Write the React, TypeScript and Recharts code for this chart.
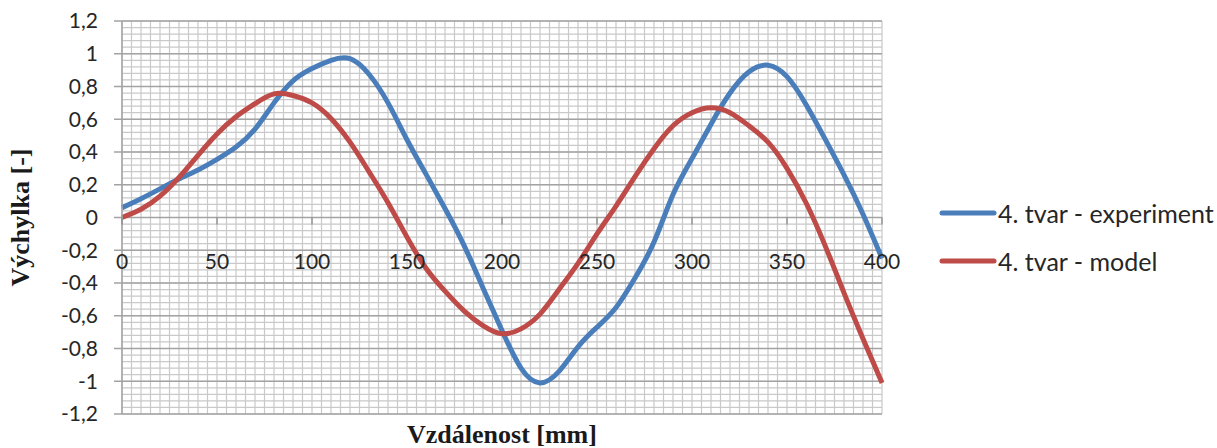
import React from 'react'
import { LineChart, Line, XAxis, YAxis, CartesianGrid, Legend } from 'recharts'

// vzdálenost [mm]
const distance = [
  0, 10, 20, 30, 40, 50, 60, 70, 80, 90, 100, 110, 120, 130, 140, 150, 160, 170, 180, 190, 200,
  210, 220, 230, 240, 250, 260, 270, 280, 290, 300, 310, 320, 330, 340, 350, 360, 370, 380, 390, 400,
]

// 4. tvar - experiment
const experiment = [
  0.06, 0.115, 0.175, 0.235, 0.29, 0.355, 0.43, 0.54, 0.7, 0.835, 0.91, 0.96, 0.97, 0.875, 0.7,
  0.475, 0.265, 0.055, -0.17, -0.43, -0.69, -0.92, -1.01, -0.94, -0.79, -0.67, -0.55, -0.37, -0.15,
  0.14, 0.36, 0.57, 0.76, 0.89, 0.93, 0.86, 0.69, 0.48, 0.26, 0.02, -0.25,
]

// 4. tvar - model
const model = [
  0, 0.05, 0.13, 0.245, 0.38, 0.51, 0.615, 0.695, 0.755, 0.745, 0.7, 0.605, 0.46, 0.28, 0.09,
  -0.12, -0.31, -0.45, -0.57, -0.66, -0.71, -0.68, -0.59, -0.44, -0.28, -0.1, 0.07, 0.25, 0.42,
  0.56, 0.64, 0.67, 0.64, 0.56, 0.46, 0.3, 0.09, -0.17, -0.46, -0.74, -1.01,
]

const xTicks = [0, 50, 100, 150, 200, 250, 300, 350, 400]
const yTicks = [-1.2, -1, -0.8, -0.6, -0.4, -0.2, 0, 0.2, 0.4, 0.6, 0.8, 1, 1.2]
// vedlejší mřížka
const xMinorTicks = Array.from({ length: 81 }, (_, i) => i * 5)
const yMinorTicks = Array.from({ length: 61 }, (_, i) => Math.round((-1.2 + i * 0.04) * 100) / 100)

const data = distance.map((d, i) => ({ d, exp: experiment[i], model: model[i] }))

const W = 1217
const H = 448
const TOP = 21
const X_AXIS_H = 34
const PLOT_H = H - TOP - X_AXIS_H
const ZERO_Y = TOP + PLOT_H / 2

const FONT = 'Lato, "Open Sans", sans-serif'
const SERIF = '"Liberation Serif", "Times New Roman", serif'

const fmt = (v: number) => String(Math.round(v * 10) / 10).replace('.', ',')

// převod hodnoty na pixel přes škálu osy (s náhradou přes offset)
const applyScale = (axis: any, v: number, fallback: number) => {
  const s = axis && axis.scale
  let r: any = undefined
  if (typeof s === 'function') r = s(v)
  else if (s && typeof s.map === 'function') r = s.map(v)
  return typeof r === 'number' && isFinite(r) ? r : fallback
}

const minorVertical = ({ xAxis, offset }: any) =>
  xMinorTicks.map((v) => applyScale(xAxis, v, offset.left + (offset.width * v) / 400))
const minorHorizontal = ({ yAxis, offset }: any) =>
  yMinorTicks.map((v) => applyScale(yAxis, v, offset.top + (offset.height * (1.2 - v)) / 2.4))

function XTick(props: any) {
  const { x, payload } = props
  return (
    <g>
      <line x1={x} x2={x} y1={ZERO_Y} y2={ZERO_Y + 7} stroke="#8c8c8c" strokeWidth={1.3} />
      <text x={x} y={ZERO_Y + 51} textAnchor="middle" fontFamily={FONT} fontSize={21} fill="#262626">
        {payload.value}
      </text>
    </g>
  )
}

const renderLegend = (props: any) => (
  <div>
    {props.payload.map((entry: any) => (
      <div key={entry.value} style={{ display: 'flex', alignItems: 'center', height: 48 }}>
        <svg width={58} height={10}>
          <line x1={3} y1={5} x2={55} y2={5} stroke={entry.color} strokeWidth={5} strokeLinecap="round" />
        </svg>
        <span style={{ fontFamily: FONT, fontSize: 25, color: '#262626', marginLeft: 1 }}>{entry.value}</span>
      </div>
    ))}
  </div>
)

export default function App() {
  return (
    <div style={{ position: 'absolute', left: 0, top: 0, background: '#fff' }}>
      <LineChart width={W} height={H} data={data} margin={{ top: TOP, right: 335, bottom: 0, left: 0 }}>
        <CartesianGrid
          stroke="#c9c9c9"
          strokeWidth={1.2}
          verticalCoordinatesGenerator={minorVertical}
          horizontalCoordinatesGenerator={minorHorizontal}
        />
        <CartesianGrid vertical={false} stroke="#a3a3a3" strokeWidth={1.5} />
        <XAxis
          dataKey="d"
          type="number"
          domain={[0, 400]}
          ticks={xTicks}
          height={X_AXIS_H}
          axisLine={false}
          tickLine={false}
          tick={<XTick />}
          interval={0}
          label={(p: any) => (
            <text
              x={p.viewBox.x + p.viewBox.width / 2}
              y={443}
              textAnchor="middle"
              fontFamily={SERIF}
              fontWeight="bold"
              fontSize={26}
              fill="#1a1a1a"
            >
              Vzdálenost [mm]
            </text>
          )}
        />
        <YAxis
          type="number"
          domain={[-1.2, 1.2]}
          ticks={yTicks}
          interval={0}
          width={122}
          tickSize={8}
          tickMargin={16}
          tickFormatter={fmt}
          axisLine={{ stroke: '#a3a3a3', strokeWidth: 1.5 }}
          tickLine={{ stroke: '#a3a3a3', strokeWidth: 1.5 }}
          tick={{ fontFamily: FONT, fontSize: 21, fill: '#262626' }}
          label={(p: any) => (
            <text
              transform={`translate(29, ${p.viewBox.y + p.viewBox.height / 2}) rotate(-90)`}
              textAnchor="middle"
              fontFamily={SERIF}
              fontWeight="bold"
              fontSize={26}
              fill="#1a1a1a"
            >
              Výchylka [-]
            </text>
          )}
        />
        <Legend
          layout="vertical"
          align="center"
          verticalAlign="middle"
          content={renderLegend}
          wrapperStyle={{ position: 'absolute', left: 939, top: 189, width: 278 }}
        />
        <Line
          dataKey="exp"
          name="4. tvar - experiment"
          type="natural"
          stroke="#4a7ebb"
          strokeWidth={5}
          dot={false}
          isAnimationActive={false}
        />
        <Line
          dataKey="model"
          name="4. tvar - model"
          type="natural"
          stroke="#be4b48"
          strokeWidth={5}
          dot={false}
          isAnimationActive={false}
        />
      </LineChart>
    </div>
  )
}
